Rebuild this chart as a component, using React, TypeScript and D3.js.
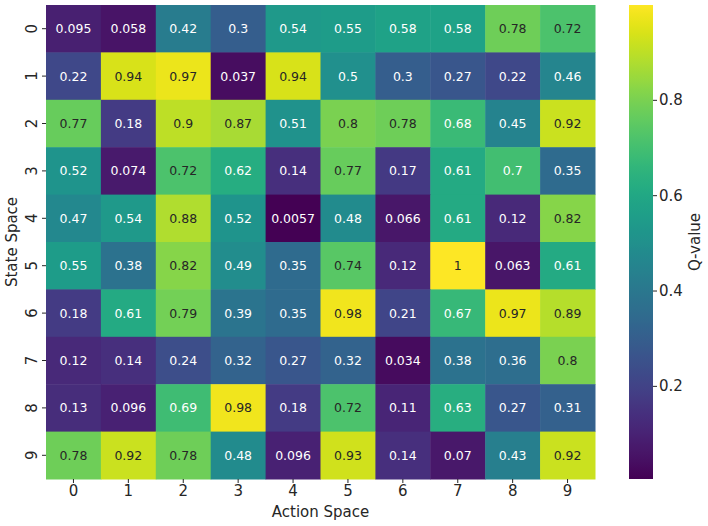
import React from "react";
import * as d3 from "d3";

// Q-table: rows are states, columns are actions
const states = ["0", "1", "2", "3", "4", "5", "6", "7", "8", "9"];
const actions = ["0", "1", "2", "3", "4", "5", "6", "7", "8", "9"];

const qValues = [
  [0.095, 0.058, 0.42, 0.3, 0.54, 0.55, 0.58, 0.58, 0.78, 0.72],
  [0.22, 0.94, 0.97, 0.037, 0.94, 0.5, 0.3, 0.27, 0.22, 0.46],
  [0.77, 0.18, 0.9, 0.87, 0.51, 0.8, 0.78, 0.68, 0.45, 0.92],
  [0.52, 0.074, 0.72, 0.62, 0.14, 0.77, 0.17, 0.61, 0.7, 0.35],
  [0.47, 0.54, 0.88, 0.52, 0.0057, 0.48, 0.066, 0.61, 0.12, 0.82],
  [0.55, 0.38, 0.82, 0.49, 0.35, 0.74, 0.12, 1, 0.063, 0.61],
  [0.18, 0.61, 0.79, 0.39, 0.35, 0.98, 0.21, 0.67, 0.97, 0.89],
  [0.12, 0.14, 0.24, 0.32, 0.27, 0.32, 0.034, 0.38, 0.36, 0.8],
  [0.13, 0.096, 0.69, 0.98, 0.18, 0.72, 0.11, 0.63, 0.27, 0.31],
  [0.78, 0.92, 0.78, 0.48, 0.096, 0.93, 0.14, 0.07, 0.43, 0.92],
];

const colorbarTicks = [0.2, 0.4, 0.6, 0.8];

const FONT = "DejaVu Sans, sans-serif";
const INK = "#262626";

// same rule seaborn uses to pick light or dark annotation text
const luminance = (c: string) => {
  const rgb = d3.rgb(c);
  const ch = [rgb.r, rgb.g, rgb.b].map((v) => {
    const s = v / 255;
    return s <= 0.03928 ? s / 12.92 : Math.pow((s + 0.055) / 1.055, 2.4);
  });
  return 0.2126 * ch[0] + 0.7152 * ch[1] + 0.0722 * ch[2];
};

export default function App() {
  const width = 708,
    height = 526;
  const plot = { left: 46, right: 595, top: 5, bottom: 479 };
  const bar = { left: 629, right: 653 };

  const flat = qValues.flat();
  const vmin = d3.min(flat) as number;
  const vmax = d3.max(flat) as number;

  const x = d3.scaleBand().domain(actions).range([plot.left, plot.right]);
  const y = d3.scaleBand().domain(states).range([plot.top, plot.bottom]);
  const color = d3.scaleSequential(d3.interpolateViridis).domain([vmin, vmax]);
  const cy = d3.scaleLinear().domain([vmin, vmax]).range([plot.bottom, plot.top]);
  const fmt = d3.format(".2~g");

  const stops = d3.range(0, 1.0001, 0.02);

  return (
    <svg
      width={width}
      height={height}
      style={{ position: "absolute", left: 0, top: 0, background: "#fff" }}
      fontFamily={FONT}
    >
      <defs>
        <linearGradient id="cbar" x1="0" y1="1" x2="0" y2="0">
          {stops.map((t) => (
            <stop key={t} offset={t} stopColor={d3.interpolateViridis(t)} />
          ))}
        </linearGradient>
      </defs>

      {/* cells */}
      {qValues.map((row, i) =>
        row.map((v, j) => (
          <rect
            key={`c${i}-${j}`}
            x={x(actions[j])}
            y={y(states[i])}
            width={x.bandwidth() + 0.5}
            height={y.bandwidth() + 0.5}
            fill={color(v)}
          />
        ))
      )}

      {/* annotations */}
      {qValues.map((row, i) =>
        row.map((v, j) => (
          <text
            key={`t${i}-${j}`}
            x={(x(actions[j]) as number) + x.bandwidth() / 2}
            y={(y(states[i]) as number) + y.bandwidth() / 2}
            textAnchor="middle"
            dominantBaseline="central"
            fontSize={12.5}
            fill={luminance(color(v)) > 0.408 ? INK : "#fff"}
          >
            {fmt(v)}
          </text>
        ))
      )}

      {/* x axis */}
      {actions.map((a) => {
        const cx = (x(a) as number) + x.bandwidth() / 2;
        return (
          <g key={`xa${a}`}>
            <line x1={cx} x2={cx} y1={plot.bottom} y2={plot.bottom + 4} stroke={INK} strokeWidth={1} />
            <text x={cx} y={plot.bottom + 17} textAnchor="middle" fontSize={15} fill={INK}>
              {a}
            </text>
          </g>
        );
      })}
      <text x={(plot.left + plot.right) / 2} y={517} textAnchor="middle" fontSize={15} fill={INK}>
        Action Space
      </text>

      {/* y axis */}
      {states.map((s) => {
        const cyy = (y(s) as number) + y.bandwidth() / 2;
        return (
          <g key={`ya${s}`}>
            <line x1={plot.left - 4} x2={plot.left} y1={cyy} y2={cyy} stroke={INK} strokeWidth={1} />
            <text
              transform={`translate(37,${cyy}) rotate(-90)`}
              textAnchor="middle"
              fontSize={15}
              fill={INK}
            >
              {s}
            </text>
          </g>
        );
      })}
      <text
        transform={`translate(17,${(plot.top + plot.bottom) / 2}) rotate(-90)`}
        textAnchor="middle"
        fontSize={15}
        fill={INK}
      >
        State Space
      </text>

      {/* colorbar */}
      <rect
        x={bar.left}
        y={plot.top}
        width={bar.right - bar.left}
        height={plot.bottom - plot.top}
        fill="url(#cbar)"
      />
      {colorbarTicks.map((t) => (
        <g key={`cb${t}`}>
          <line x1={bar.right} x2={bar.right + 4} y1={cy(t)} y2={cy(t)} stroke={INK} strokeWidth={1} />
          <text x={bar.right + 6} y={cy(t)} dominantBaseline="central" fontSize={15} fill={INK}>
            {t.toFixed(1)}
          </text>
        </g>
      ))}
      <text
        transform={`translate(695,${(plot.top + plot.bottom) / 2}) rotate(-90)`}
        textAnchor="middle"
        dominantBaseline="central"
        fontSize={15}
        fill={INK}
      >
        Q-value
      </text>
    </svg>
  );
}
